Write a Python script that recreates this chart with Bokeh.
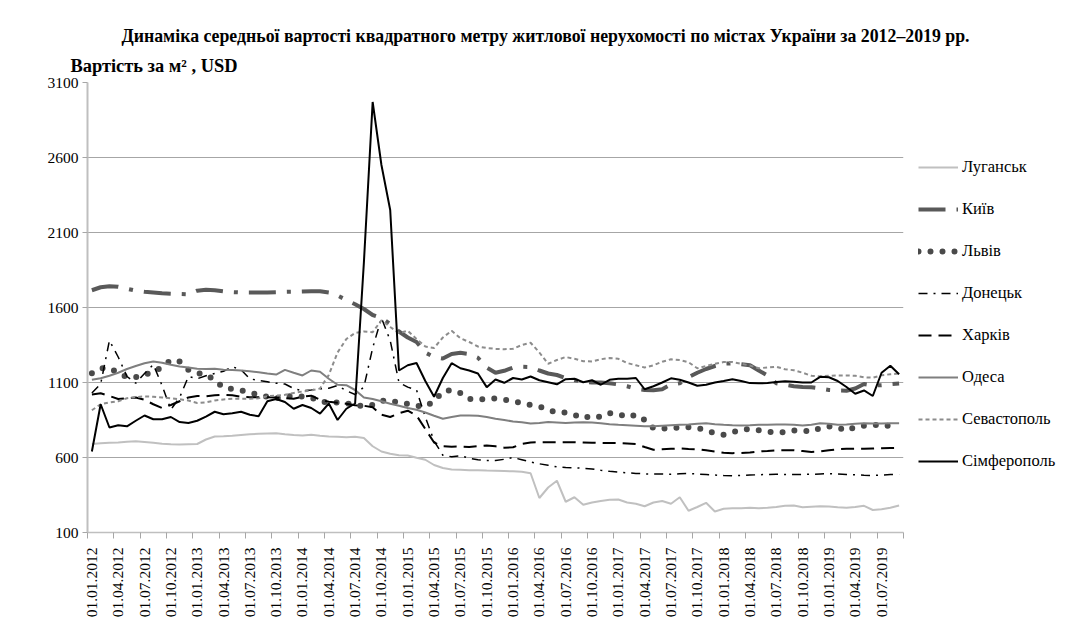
import numpy as np
from bokeh.plotting import figure
from bokeh.models import FixedTicker, Legend, LegendItem, Title, Range1d
from bokeh.embed import file_html
from bokeh.resources import INLINE

# monthly categories 01.01.2012 .. 01.09.2019
dates = ["01.%02d.%d" % (m, y) for y in range(2012, 2020) for m in range(1, 13)][:93]
tick_idx = list(range(0, 93, 3))
tick_labels = {i: dates[i] for i in tick_idx}

luhansk = [690, 695, 698, 700, 705, 708, 703, 698, 692, 688,
           686, 688, 690, 720, 740, 742, 745, 750, 755, 758,
           760, 762, 755, 750, 747, 752, 745, 740, 738, 735,
           738, 730, 675, 640, 625, 615, 613, 598, 585, 550,
           530, 520, 518, 515, 515, 513, 512, 510, 508, 505,
           495, 330, 400, 445, 305, 335, 285, 300, 310, 318,
           320, 300, 292, 275, 300, 310, 292, 335, 245, 270,
           298, 240, 258, 262, 262, 265, 262, 265, 270, 278,
           280, 268, 272, 275, 273, 268, 265, 270, 278, 250,
           255, 265, 280]
kyiv = [1715, 1735, 1742, 1738, 1725, 1712, 1705, 1700, 1695, 1692,
        1690, 1688, 1712, 1718, 1715, 1708, 1703, 1700, 1700, 1700,
        1700, 1702, 1704, 1705, 1707, 1708, 1708, 1700, 1680, 1650,
        1622, 1590, 1550, 1530, 1490, 1440, 1400, 1370, 1300, 1270,
        1260, 1290, 1298, 1290, 1265, 1200, 1165, 1178, 1200, 1205,
        1203, 1180, 1160, 1150, 1130, 1115, 1105, 1100, 1100, 1095,
        1087, 1075, 1058, 1050, 1048, 1055, 1087, 1095, 1135, 1165,
        1190, 1210, 1225, 1228, 1222, 1215, 1180, 1147, 1095, 1085,
        1075, 1070, 1068, 1060, 1050, 1047, 1045, 1060, 1090, 1080,
        1082, 1088, 1093]
lviv = [1162, 1195, 1197, 1165, 1135, 1135, 1150, 1175, 1200, 1250,
        1240, 1185, 1162, 1155, 1115, 1065, 1057, 1048, 1033, 1018,
        1005, 995, 1008, 1008, 1007, 1000, 972, 969, 966, 962,
        948, 942, 950, 978, 980, 965, 958, 945, 940, 975,
        1040, 1050, 1030, 990, 985, 993, 993, 985, 978, 962,
        950, 940, 918, 900, 900, 885, 862, 880, 870, 895,
        890, 868, 885, 850, 795, 791, 797, 800, 801, 797,
        780, 762, 752, 768, 785, 790, 782, 772, 767, 768,
        780, 780, 773, 795, 808, 800, 778, 805, 812, 815,
        822, 808, 800]
donetsk = [1030, 1090, 1380, 1270, 1140, 1095, 1160, 1220, 1080, 920,
           1000, 1140, 1125, 1145, 1160, 1175, 1205, 1185, 1125, 1113,
           1105, 1095, 1090, 1060, 1045, 1050, 1058, 1062, 1080, 1045,
           1020, 1070, 1330, 1530, 1380, 1100, 1069, 1050, 870, 710,
           615, 605, 612, 595, 585, 580, 580, 588, 600, 585,
           570, 558, 548, 538, 533, 531, 528, 524, 515, 508,
           503, 498, 494, 491, 490, 490, 488, 492, 493, 490,
           487, 483, 480, 478, 480, 483, 485, 487, 488, 486,
           487, 487, 488, 490, 492, 490, 487, 485, 482, 480,
           483, 486, 487]
kharkiv = [1020, 1028, 1010, 990, 995, 1000, 985, 955, 930, 950,
           975, 1000, 1010, 1008, 1015, 1018, 1015, 1005, 1002, 1002,
           1002, 1000, 995, 992, 1005, 1012, 985, 972, 965, 958,
           948, 945, 935, 885, 870, 895, 912, 880, 790, 700,
           675, 672, 673, 670, 675, 680, 675, 665, 668, 690,
           700, 702, 702, 702, 702, 702, 700, 698, 697, 696,
           696, 693, 690, 670, 652, 655, 658, 660, 657, 655,
           648, 640, 632, 629, 630, 633, 640, 643, 647, 648,
           648, 643, 637, 640, 648, 655, 658, 658, 658, 660,
           662, 663, 664]
odesa = [1118, 1128, 1145, 1165, 1190, 1210, 1228, 1240, 1232, 1218,
         1207, 1200, 1191, 1190, 1191, 1185, 1183, 1180, 1175, 1168,
         1160, 1153, 1184, 1165, 1147, 1180, 1172, 1125, 1085, 1082,
         1050, 1000, 990, 975, 958, 945, 930, 918, 900, 878,
         858, 870, 880, 880, 878, 870, 858, 850, 840, 835,
         826, 830, 836, 833, 830, 833, 835, 833, 828, 822,
         818, 815, 812, 808, 808, 812, 815, 818, 820, 825,
         828, 822, 818, 815, 813, 815, 818, 818, 820, 820,
         818, 813, 818, 828, 825, 818, 820, 825, 828, 826,
         826, 828, 829]
sevastopol = [915, 955, 968, 975, 995, 1003, 1007, 1005, 1000, 995,
              988, 980, 963, 968, 980, 987, 991, 991, 991, 995,
              1008, 1013, 1018, 1030, 1040, 1047, 1060, 1150, 1300, 1390,
              1430, 1440, 1435, 1515, 1470, 1430, 1445, 1390, 1340, 1330,
              1400, 1445, 1395, 1370, 1340, 1330, 1324, 1322, 1325, 1350,
              1365, 1300, 1225, 1250, 1270, 1258, 1242, 1240, 1255, 1263,
              1258, 1230, 1215, 1200, 1215, 1238, 1255, 1250, 1235, 1195,
              1210, 1225, 1236, 1236, 1225, 1213, 1195, 1200, 1205, 1188,
              1182, 1165, 1145, 1140, 1145, 1147, 1147, 1145, 1135, 1132,
              1148, 1155, 1160]
simferopol = [640, 955, 800, 815, 808, 845, 880, 855, 855, 870,
              836, 830, 845, 873, 905, 888, 895, 905, 885, 875,
              975, 990, 970, 925, 950, 930, 892, 960, 850, 925,
              960, 1900, 2970, 2550, 2250, 1180, 1215, 1230, 1110, 1005,
              1130, 1229, 1195, 1180, 1160, 1069, 1120, 1098, 1130, 1120,
              1140, 1115, 1102, 1088, 1122, 1125, 1102, 1115, 1085, 1118,
              1125, 1125, 1130, 1055, 1075, 1100, 1128, 1118, 1100, 1078,
              1085, 1100, 1110, 1122, 1110, 1096, 1095, 1096, 1103, 1108,
              1105, 1100, 1100, 1138, 1135, 1110, 1070, 1025, 1047, 1010,
              1165, 1212, 1155]

series = [
    ("Луганськ", luhansk, "#c0c0c0", 2, "solid"),
    ("Київ", kyiv, "#595959", 4, "27 11 4 11"),
    ("Львів", lviv, "#4a4a4a", 6, "0 12"),
    ("Донецьк", donetsk, "#000000", 1.5, "9 6 2 6"),
    ("Харків", kharkiv, "#000000", 2, "13 7"),
    ("Одеса", odesa, "#7f7f7f", 2, "solid"),
    ("Севастополь", sevastopol, "#8c8c8c", 2, "4 3"),
    ("Сімферополь", simferopol, "#000000", 2, "solid"),
]

x = list(range(len(dates)))
FONT = "Liberation Serif"

p = figure(frame_width=816, frame_height=450, output_backend="svg", toolbar_location=None,
           x_range=Range1d(-0.5, 92.5), y_range=Range1d(100, 3100),
           min_border_left=87, min_border_right=10, min_border_top=82,
           min_border_bottom=89, background_fill_color="white",
           border_fill_color="white")
p.title = None
p.outline_line_color = None

sub = Title(text="Вартість за м² , USD", align="left", offset=-17,
            text_font=FONT, text_font_size="18.4px", text_font_style="bold",
            text_color="black", standoff=14)
main = Title(text="Динаміка середньої вартості квадратного метру житлової нерухомості по містах України за 2012–2019 рр.",
             align="left", offset=34, text_font=FONT, text_font_size="17.8px",
             text_font_style="bold", text_color="black", standoff=1)
p.add_layout(sub, "above")
p.add_layout(main, "above")

items = []
for name, vals, color, w, dash in series:
    kw = dict(line_color=color, line_width=w)
    if dash != "solid":
        kw["line_dash"] = dash
    if name == "Львів":
        kw["line_cap"] = "round"
    r = p.line(x, vals, **kw)
    items.append(LegendItem(label=name, renderers=[r]))

legend = Legend(items=items, location=(15, 61), padding=0, margin=0,
                spacing=22, glyph_width=40, glyph_height=20, label_height=20,
                label_standoff=4, label_text_font=FONT, label_text_font_size="16.5px",
                label_text_color="black", border_line_color=None,
                background_fill_alpha=0)
p.add_layout(legend, "right")

p.xgrid.visible = False
p.ygrid.grid_line_color = "#a6a6a6"
p.ygrid.grid_line_width = 1

p.yaxis.ticker = FixedTicker(ticks=list(range(100, 3101, 500)))
p.yaxis.axis_line_color = "#bfbfbf"
p.yaxis.axis_line_width = 2
p.yaxis.major_tick_out = 5
p.yaxis.major_tick_in = 0
p.yaxis.major_tick_line_color = "#a6a6a6"
p.yaxis.minor_tick_line_color = None
p.yaxis.major_label_text_font = FONT
p.yaxis.major_label_text_font_size = "15.5px"
p.yaxis.major_label_text_color = "black"
p.yaxis.major_label_standoff = 4

p.xaxis.ticker = FixedTicker(ticks=tick_idx, minor_ticks=[i - 0.5 for i in range(0, 94, 3)])
p.xaxis.major_label_overrides = tick_labels
p.xaxis.major_label_orientation = np.pi / 2
p.xaxis.axis_line_color = "#bfbfbf"
p.xaxis.axis_line_width = 1.5
p.xaxis.major_tick_out = 0
p.xaxis.major_tick_in = 0
p.xaxis.minor_tick_out = 6
p.xaxis.minor_tick_in = 0
p.xaxis.minor_tick_line_color = "#a6a6a6"
p.xaxis.major_label_text_font = FONT
p.xaxis.major_label_text_font_size = "15.5px"
p.xaxis.major_label_text_color = "black"
p.xaxis.major_label_standoff = 9

open("out.html", "w").write(file_html(p, INLINE))
